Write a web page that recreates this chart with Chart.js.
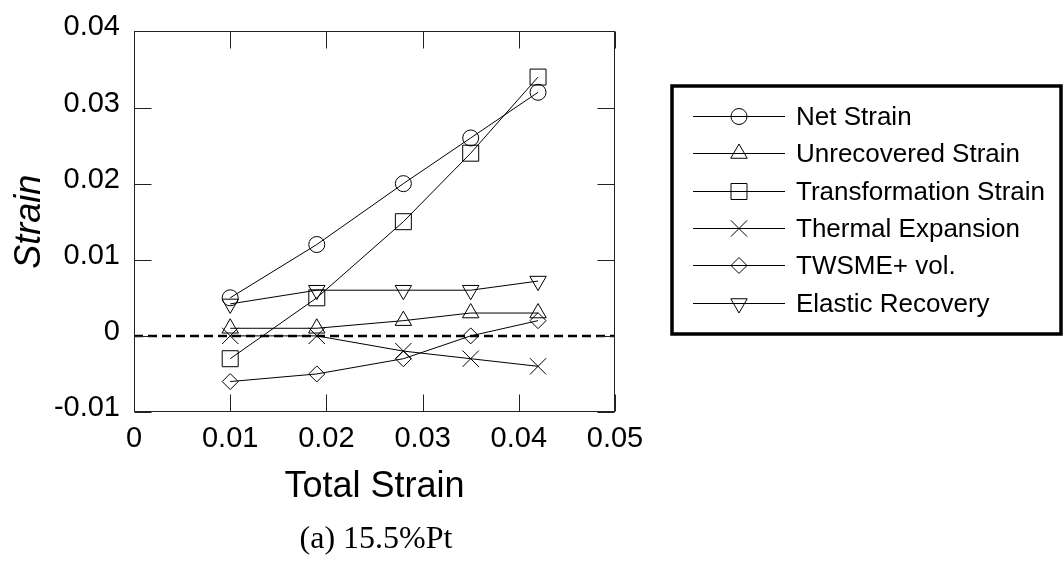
<!DOCTYPE html>
<html>
<head>
<meta charset="utf-8">
<script src="https://cdn.jsdelivr.net/npm/chart.js@4/dist/chart.umd.min.js"></script>
<style>
  html, body { margin: 0; padding: 0; background: #fff; }
  #wrap { width: 1063px; height: 565px; }
</style>
</head>
<body>
<div id="wrap"><canvas id="c" width="1063" height="565"></canvas></div>
<script>
// ---- data ----
const totalStrain = [0.010, 0.019, 0.028, 0.035, 0.042];
const netStrain = [0.005, 0.012, 0.020, 0.026, 0.032];
const unrecoveredStrain = [0.001, 0.001, 0.002, 0.003, 0.003];
const transformationStrain = [-0.003, 0.005, 0.015, 0.024, 0.034];
const thermalExpansion = [0.000, 0.000, -0.002, -0.003, -0.004];
const twsmeVol = [-0.006, -0.005, -0.003, 0.000, 0.002];
const elasticRecovery = [0.0042, 0.006, 0.006, 0.006, 0.0072];
const seriesNames = ['Net Strain', 'Unrecovered Strain', 'Transformation Strain', 'Thermal Expansion', 'TWSME+ vol.', 'Elastic Recovery'];
const xTicks = [0, 0.01, 0.02, 0.03, 0.04, 0.05];
const yTicks = [-0.01, 0, 0.01, 0.02, 0.03, 0.04];
const zeroLineX = [0, 0.05];
const zeroLineY = [0, 0];
const xTitle = 'Total Strain';
const yTitle = 'Strain';
const caption = '(a) 15.5%Pt';

const pts = (ys) => totalStrain.map((x, i) => ({ x: x, y: ys[i] }));
const styles = [
  { pointStyle: 'circle', radius: 8, rotation: 0 },
  { pointStyle: 'triangle', radius: 9.5, rotation: 0 },
  { pointStyle: 'rect', radius: 11.3, rotation: 0 },
  { pointStyle: 'crossRot', radius: 11.5, rotation: 0 },
  { pointStyle: 'rectRot', radius: 8, rotation: 0 },
  { pointStyle: 'triangle', radius: 9.5, rotation: 180 }
];
const seriesData = [netStrain, unrecoveredStrain, transformationStrain, thermalExpansion, twsmeVol, elasticRecovery];

const datasets = seriesData.map((ys, i) => ({
  label: seriesNames[i],
  data: pts(ys),
  borderColor: '#000',
  borderWidth: 1,
  backgroundColor: 'rgba(0,0,0,0)',
  pointStyle: styles[i].pointStyle,
  pointRadius: styles[i].radius,
  pointRotation: styles[i].rotation,
  pointBorderColor: '#000',
  pointBorderWidth: 1,
  pointBackgroundColor: 'rgba(0,0,0,0)',
  tension: 0,
  fill: false,
  clip: false
}));
datasets.push({
  label: '_zero',
  data: zeroLineX.map((x, i) => ({ x: x, y: zeroLineY[i] })),
  borderColor: '#000',
  borderWidth: 2.5,
  borderDash: [9, 5],
  pointRadius: 0,
  fill: false,
  tension: 0
});

const TICK = 17;
const framePlugin = {
  id: 'frame',
  afterDatasetsDraw(chart) {
    const { ctx, chartArea: a, scales: { x, y } } = chart;
    ctx.save();
    ctx.strokeStyle = '#222';
    ctx.lineWidth = 1;
    const L = Math.round(a.left) + 0.5, R = Math.round(a.right) - 0.5;
    const T = Math.round(a.top) + 0.5, B = Math.round(a.bottom) - 0.5;
    ctx.strokeRect(L, T, R - L, B - T);
    ctx.beginPath();
    xTicks.forEach(v => {
      const px = Math.round(x.getPixelForValue(v)) + 0.5;
      ctx.moveTo(px, B); ctx.lineTo(px, B - TICK);
      ctx.moveTo(px, T); ctx.lineTo(px, T + TICK);
    });
    yTicks.forEach(v => {
      const py = Math.round(y.getPixelForValue(v)) + 0.5;
      ctx.moveTo(L, py); ctx.lineTo(L + TICK, py);
      ctx.moveTo(R, py); ctx.lineTo(R - TICK, py);
    });
    ctx.stroke();
    ctx.restore();
  }
};

const legendPlugin = {
  id: 'boxLegend',
  afterDraw(chart) {
    const { ctx } = chart;
    ctx.save();
    // box
    ctx.strokeStyle = '#000';
    ctx.lineWidth = 3.5;
    ctx.strokeRect(672, 86, 1061 - 672, 334 - 86);
    const y0 = 116, step = 37.33;
    ctx.textBaseline = 'middle';
    ctx.textAlign = 'left';
    chart.data.datasets.forEach((ds, i) => {
      if (ds.label.startsWith('_')) return;
      const yy = Math.round(y0 + i * step) + 0.5;
      ctx.strokeStyle = '#000';
      ctx.lineWidth = 1;
      ctx.beginPath();
      ctx.moveTo(693, yy); ctx.lineTo(785, yy);
      ctx.stroke();
      ctx.fillStyle = 'rgba(0,0,0,0)';
      Chart.helpers.drawPoint(ctx, {
        pointStyle: ds.pointStyle,
        radius: ds.pointRadius,
        rotation: ds.pointRotation,
        borderWidth: 1
      }, 739, yy);
      ctx.fillStyle = '#000';
      ctx.font = '26px "Liberation Sans", Arial, sans-serif';
      ctx.fillText(ds.label, 796, yy + 1);
    });
    // caption
    ctx.fillStyle = '#000';
    ctx.font = '32px "Liberation Serif", "Times New Roman", serif';
    ctx.textAlign = 'center';
    ctx.textBaseline = 'alphabetic';
    ctx.fillText(caption, 376, 548);
    ctx.restore();
  }
};

const fmt = (v) => {
  const r = Math.round(v * 1000) / 1000;
  return r === 0 ? '0' : String(r);
};

new Chart(document.getElementById('c'), {
  type: 'line',
  data: { datasets: datasets },
  options: {
    responsive: false,
    animation: false,
    devicePixelRatio: 1,
    layout: { padding: { top: 28, right: 448, bottom: 0, left: 0 } },
    plugins: {
      legend: { display: false },
      tooltip: { enabled: false }
    },
    scales: {
      x: {
        type: 'linear',
        min: 0, max: 0.05,
        afterBuildTicks: (s) => { s.ticks = xTicks.map(v => ({ value: v })); },
        afterFit: (s) => { s.height = 153; },
        grid: { display: false, drawTicks: false },
        border: { display: false },
        ticks: {
          padding: 10,
          color: '#000',
          font: { family: '"Liberation Sans", Arial, sans-serif', size: 29 },
          maxRotation: 0,
          autoSkip: false,
          callback: (v) => fmt(v)
        },
        title: {
          display: true,
          text: xTitle,
          color: '#000',
          font: { family: '"Liberation Sans", Arial, sans-serif', size: 36 },
          padding: { top: 0, bottom: 56 }
        }
      },
      y: {
        type: 'linear',
        min: -0.01, max: 0.04,
        afterBuildTicks: (s) => { s.ticks = yTicks.map(v => ({ value: v })); },
        afterFit: (s) => { s.width = 134; },
        grid: { display: false, drawTicks: false },
        border: { display: false },
        ticks: {
          padding: 14,
          labelOffset: -4,
          color: '#000',
          font: { family: '"Liberation Sans", Arial, sans-serif', size: 29 },
          autoSkip: false,
          callback: (v) => fmt(v)
        },
        title: {
          display: true,
          text: yTitle,
          color: '#000',
          font: { family: '"Liberation Sans", Arial, sans-serif', size: 36, style: 'italic' },
          padding: { top: 8, bottom: 0 }
        }
      }
    }
  },
  plugins: [framePlugin, legendPlugin]
});
</script>
</body>
</html>
